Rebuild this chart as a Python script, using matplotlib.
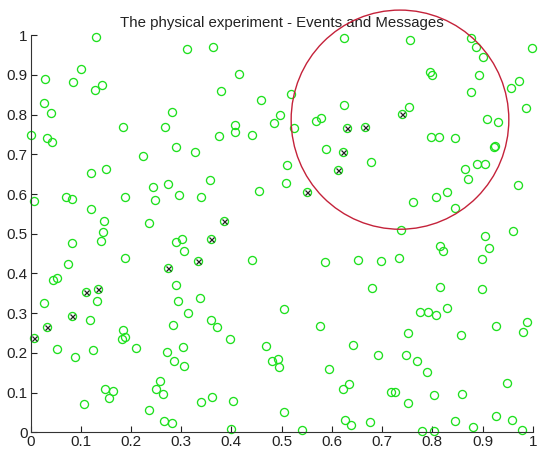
import matplotlib
matplotlib.use("Agg")
import matplotlib.pyplot as plt
from matplotlib.patches import Ellipse

plt.rcParams['font.family'] = ['Liberation Sans', 'DejaVu Sans']

# all event positions (green circles)
ev_x = [0.130, 0.029, 0.084, 0.100, 0.128, 0.143, 0.026, 0.041, 0.000, 0.032, 0.043, 0.006,
        0.184, 0.267, 0.281, 0.223, 0.290, 0.327, 0.311, 0.363, 0.415, 0.379, 0.459, 0.408,
        0.408, 0.376, 0.441, 0.484, 0.497, 0.121, 0.151, 0.070, 0.082, 0.121, 0.147, 0.145,
        0.188, 0.243, 0.248, 0.274, 0.295, 0.340, 0.357, 0.454, 0.235, 0.385,
        0.140, 0.082, 0.290, 0.302, 0.306, 0.359, 0.189, 0.075, 0.333, 0.274, 0.441, 0.045,
        0.053, 0.110, 0.135, 0.026, 0.132, 0.290, 0.293, 0.338, 0.313, 0.083, 0.119, 0.032,
        0.006, 0.283, 0.360, 0.372, 0.184, 0.182, 0.189, 0.211, 0.052, 0.124, 0.089, 0.271,
        0.285, 0.303, 0.305, 0.398, 0.469, 0.481, 0.492, 0.494, 0.257, 0.250, 0.263, 0.149,
        0.165, 0.156, 0.106, 0.340, 0.362, 0.404, 0.235, 0.266, 0.282, 0.399, 0.504, 0.504,
        0.738, 0.960, 0.904, 0.816, 0.821, 0.913, 0.899, 0.587, 0.652, 0.698, 0.733, 0.680,
        0.816, 0.899, 0.776, 0.792, 0.808, 0.830, 0.576, 0.752, 0.858, 0.927, 0.980, 0.989,
        0.643, 0.691, 0.747, 0.770, 0.789, 0.595, 0.623, 0.634, 0.717, 0.725, 0.752, 0.804,
        0.860, 0.949, 0.626, 0.639, 0.676, 0.541, 0.780, 0.804, 0.846, 0.881, 0.927, 0.958,
        0.979,
        0.625, 0.756, 0.878, 0.887, 0.901, 0.998, 0.796, 0.800, 0.894, 0.973, 0.957, 0.878,
        0.986, 0.518, 0.525, 0.568, 0.579, 0.625, 0.631, 0.666, 0.753, 0.740, 0.588, 0.623,
        0.678, 0.613, 0.510, 0.509, 0.550, 0.797, 0.814, 0.846, 0.909, 0.930, 0.922, 0.924,
        0.866, 0.890, 0.905, 0.871, 0.970, 0.761, 0.807, 0.830, 0.846]
ev_y = [0.996, 0.891, 0.883, 0.914, 0.862, 0.874, 0.830, 0.803, 0.749, 0.740, 0.731, 0.583,
        0.769, 0.769, 0.807, 0.696, 0.719, 0.705, 0.965, 0.971, 0.903, 0.860, 0.836, 0.774,
        0.757, 0.746, 0.749, 0.778, 0.799, 0.652, 0.663, 0.593, 0.588, 0.562, 0.532, 0.504,
        0.593, 0.617, 0.585, 0.625, 0.598, 0.592, 0.635, 0.609, 0.528, 0.531,
        0.483, 0.478, 0.479, 0.486, 0.456, 0.486, 0.440, 0.425, 0.432, 0.413, 0.433, 0.384,
        0.388, 0.354, 0.360, 0.325, 0.331, 0.371, 0.331, 0.337, 0.301, 0.293, 0.282, 0.264,
        0.238, 0.269, 0.282, 0.264, 0.257, 0.236, 0.241, 0.212, 0.209, 0.207, 0.189, 0.201,
        0.180, 0.214, 0.167, 0.236, 0.218, 0.180, 0.184, 0.165, 0.129, 0.110, 0.097, 0.110,
        0.103, 0.086, 0.072, 0.077, 0.090, 0.080, 0.056, 0.028, 0.023, 0.008, 0.311, 0.051,
        0.510, 0.507, 0.494, 0.469, 0.457, 0.463, 0.437, 0.428, 0.433, 0.431, 0.439, 0.363,
        0.367, 0.361, 0.302, 0.303, 0.296, 0.314, 0.267, 0.249, 0.244, 0.267, 0.253, 0.279,
        0.220, 0.194, 0.194, 0.180, 0.153, 0.159, 0.109, 0.121, 0.101, 0.101, 0.075, 0.095,
        0.097, 0.123, 0.030, 0.019, 0.025, 0.006, 0.002, 0.004, 0.028, 0.013, 0.042, 0.030,
        0.006,
        0.994, 0.988, 0.994, 0.970, 0.946, 0.967, 0.908, 0.901, 0.901, 0.886, 0.866, 0.857,
        0.816, 0.853, 0.767, 0.784, 0.792, 0.824, 0.767, 0.770, 0.819, 0.801, 0.714, 0.707,
        0.681, 0.661, 0.673, 0.627, 0.605, 0.743, 0.743, 0.741, 0.790, 0.781, 0.719, 0.721,
        0.664, 0.676, 0.676, 0.637, 0.624, 0.580, 0.593, 0.605, 0.564]

# events that sent a message (black x)
msg_x = [0.385, 0.359, 0.333, 0.274, 0.110, 0.135, 0.083, 0.032, 0.006,
         0.631, 0.666, 0.740, 0.623, 0.613, 0.550]
msg_y = [0.531, 0.486, 0.432, 0.413, 0.354, 0.360, 0.293, 0.264, 0.238,
         0.767, 0.770, 0.801, 0.707, 0.661, 0.605]

# range circle
circ_cx, circ_cy = 0.7357, 0.7874
circ_rx, circ_ry = 0.2167, 0.276

ticks = [0, 0.1, 0.2, 0.3, 0.4, 0.5, 0.6, 0.7, 0.8, 0.9, 1]
tick_labels = ['0', '0.1', '0.2', '0.3', '0.4', '0.5', '0.6', '0.7', '0.8', '0.9', '1']

fig = plt.figure(figsize=(5.38, 4.51), dpi=100)
ax = fig.add_axes([0.0567, 0.0415, 0.9335, 0.8803])

ax.plot(ev_x, ev_y, 'o', mfc='none', mec='#1ee01e', ms=5.8, mew=0.95, clip_on=False)
ax.plot(msg_x, msg_y, 'x', color='#222222', ms=3.6, mew=0.9, clip_on=False)

ell = Ellipse((circ_cx, circ_cy), 2 * circ_rx, 2 * circ_ry, fill=False,
              ec='#c4223a', lw=1.0, clip_on=False, zorder=5)
ax.add_patch(ell)

ax.set_xlim(0, 1)
ax.set_ylim(0, 1)
ax.set_xticks(ticks)
ax.set_xticklabels(tick_labels)
ax.set_yticks(ticks)
ax.set_yticklabels(tick_labels)
ax.spines['top'].set_visible(False)
ax.spines['right'].set_visible(False)
ax.spines['left'].set_color('#333333')
ax.spines['bottom'].set_color('#333333')
ax.tick_params(direction='in', length=4, width=0.8, labelsize=11, colors='#222222', pad=2)
ax.set_title('The physical experiment - Events and Messages', fontsize=10.8, pad=6, color='#222222')

fig.savefig('out.png', dpi=100)
